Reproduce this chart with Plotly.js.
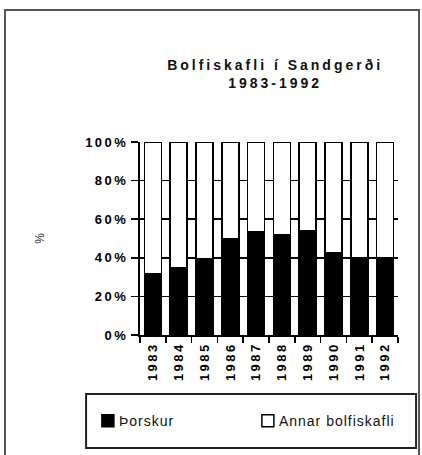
<!DOCTYPE html>
<html>
<head>
<meta charset="utf-8">
<script src="https://cdn.plot.ly/plotly-3.0.1.min.js"></script>
<style>
  html, body { margin: 0; padding: 0; background: #fff; }
  #wrap { position: relative; width: 422px; height: 455px; overflow: hidden; }
  #chart { position: absolute; left: 0; top: 0; width: 422px; height: 455px; }
  #frame { position: absolute; left: 4px; top: 9px; width: 412px; height: 460px;
           border: 2px solid #555; pointer-events: none; }
  .gtitle { letter-spacing: 3px; }
  .xtick text, .ytick text { letter-spacing: 2.5px; }
  .legendtext { letter-spacing: 1px; transform: translateX(-9px); }
</style>
</head>
<body>
<div id="wrap">
  <div id="chart"></div>
  <div id="frame"></div>
</div>
<script>
const years = ['1983','1984','1985','1986','1987','1988','1989','1990','1991','1992'];
const torskur = [31.5, 35, 39.5, 50, 53.5, 52, 54, 42.5, 40, 40];
const annar = [68.5, 65, 60.5, 50, 46.5, 48, 46, 57.5, 60, 60];
const yTicks = [0, 20, 40, 60, 80, 100];
const yTickText = ['0%', '20%', '40%', '60%', '80%', '100%'];

const FONT = 'Liberation Sans, Arial, sans-serif';

const traces = [
  {
    type: 'bar', name: 'Þorskur', x: years, y: torskur,
    marker: { color: '#000', line: { color: '#000', width: 1.5 } },
    hoverinfo: 'skip'
  },
  {
    type: 'bar', name: 'Annar bolfiskafli', x: years, y: annar,
    marker: { color: '#fff', line: { color: '#000', width: 1.5 } },
    hoverinfo: 'skip'
  }
];

const layout = {
  width: 422, height: 455, autosize: false,
  margin: { l: 140, r: 24, t: 142, b: 120, pad: 0 },
  paper_bgcolor: 'rgba(0,0,0,0)', plot_bgcolor: 'rgba(0,0,0,0)',
  barmode: 'stack', bargap: 0.34,
  font: { family: FONT, color: '#000' },
  title: {
    text: 'Bolfiskafli í Sandgerði<br>1983-1992',
    font: { family: FONT, size: 14, weight: 'bold', color: '#111' },
    xref: 'container', yref: 'container',
    x: 0.652, xanchor: 'center', y: 0.847, yanchor: 'top'
  },
  xaxis: {
    type: 'category', showgrid: false, zeroline: false,
    showline: true, linecolor: '#000', linewidth: 2,
    ticks: 'outside', tickson: 'boundaries', ticklen: 6, tickwidth: 1.5, tickcolor: '#000',
    tickangle: -90,
    tickfont: { family: FONT, size: 13, weight: 'bold', color: '#000' },
    fixedrange: true
  },
  yaxis: {
    range: [0, 100], tickvals: yTicks, ticktext: yTickText,
    showgrid: true, gridcolor: '#000', gridwidth: 1.5,
    zeroline: false, showline: true, linecolor: '#000', linewidth: 2,
    ticks: 'outside', ticklen: 7, tickwidth: 1.5, tickcolor: '#000',
    tickfont: { family: FONT, size: 13, weight: 'bold', color: '#000' },
    title: { text: '%', standoff: 38, font: { family: FONT, size: 12, color: '#333' } },
    fixedrange: true
  },
  showlegend: true,
  legend: {
    orientation: 'h', x: -0.202, xanchor: 'left', y: -0.446, yanchor: 'middle',
    bgcolor: 'rgba(0,0,0,0)', borderwidth: 0,
    entrywidthmode: 'pixels', entrywidth: 115,
    font: { family: FONT, size: 14, color: '#111' },
    traceorder: 'normal'
  },
  shapes: [
    { type: 'rect', xref: 'paper', yref: 'paper',
      x0: -0.209, x1: 1.070, y0: -0.585, y1: -0.306,
      line: { color: '#222', width: 2 }, fillcolor: 'rgba(0,0,0,0)', layer: 'above' }
  ]
};

Plotly.newPlot('chart', traces, layout, { displayModeBar: false, staticPlot: true });
</script>
</body>
</html>
